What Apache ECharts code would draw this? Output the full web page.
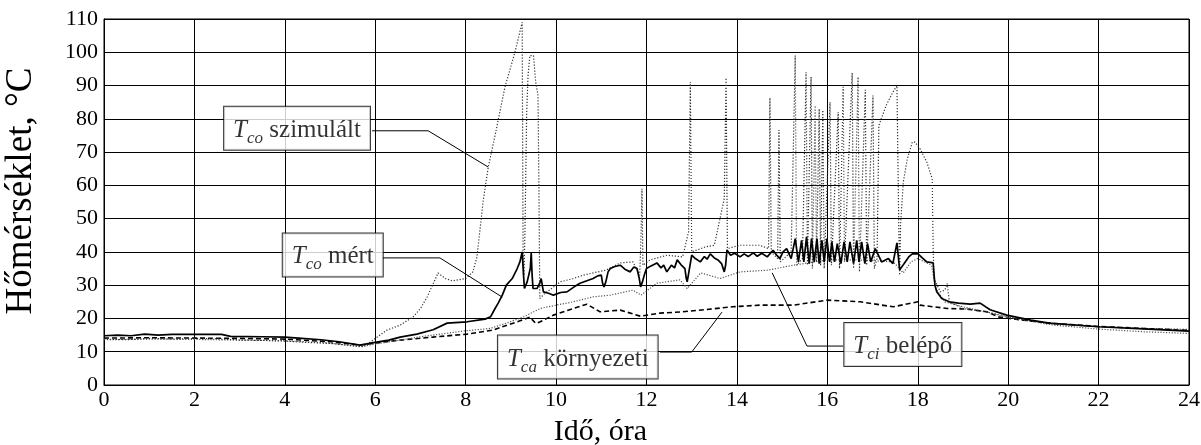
<!DOCTYPE html>
<html>
<head>
<meta charset="utf-8">
<script src="https://cdn.jsdelivr.net/npm/echarts@6/dist/echarts.min.js"></script>
<style>html,body{margin:0;padding:0;background:#fff}#c{width:1201px;height:445px}</style>
</head>
<body>
<div id="c"></div>
<script>
// ---- data: [hour, °C] ----
var tcoMeasured = [[0,14.8],[0.3,15],[0.6,14.8],[0.9,15.3],[1.2,15],[1.5,15.2],[2.0,15.2],[2.6,15.2],[2.8,14.6],[3.5,14.5],[4.0,14.4],[4.3,14.1],[4.8,13.6],[5.2,13],[5.66,12],[6.0,12.8],[6.3,13.5],[6.55,14.4],[6.92,15.3],[7.28,16.6],[7.59,18.6],[8.03,19],[8.43,19.8],[8.55,20.5],[8.65,23],[8.72,24.6],[8.81,27],[8.9,30],[9.03,32],[9.14,35],[9.2,37],[9.25,40],[9.28,33],[9.3,29],[9.36,31],[9.43,35],[9.45,39.7],[9.47,33],[9.49,29],[9.58,29],[9.65,31],[9.67,32],[9.72,28],[9.85,27.5],[9.94,27],[10.1,27.8],[10.24,28],[10.4,29.5],[10.53,30.6],[10.65,31.2],[10.82,32],[10.92,32.8],[11.0,33],[11.03,30.5],[11.06,29.5],[11.1,31],[11.15,34],[11.2,35],[11.3,35.6],[11.42,36],[11.52,34.8],[11.64,34],[11.72,35.5],[11.79,35],[11.84,32],[11.87,29.5],[11.91,31],[11.95,33],[12.0,35],[12.1,35.8],[12.23,36.7],[12.32,35.2],[12.38,36],[12.45,34],[12.55,36],[12.62,35.2],[12.68,37.6],[12.76,36.2],[12.85,35],[12.88,32],[12.9,31],[12.95,35],[13.0,39],[13.08,38],[13.19,37],[13.28,38.6],[13.34,37.8],[13.41,39.4],[13.5,38.2],[13.58,37.6],[13.66,36.5],[13.72,34],[13.75,36],[13.78,40.6],[13.86,39],[13.95,39.6],[14.07,38.5],[14.16,39.4],[14.25,38.6],[14.36,39.7],[14.45,38.7],[14.55,39.6],[14.67,38.5],[14.8,40.5],[14.88,39],[14.95,38],[15.02,40],[15.1,41],[15.2,38],[15.29,44],[15.36,37],[15.43,43.5],[15.48,37],[15.54,44.5],[15.6,36.5],[15.65,44],[15.71,37],[15.77,44],[15.82,36.5],[15.88,43.5],[15.93,37],[15.99,44],[16.05,37],[16.1,43],[16.16,37],[16.22,42.5],[16.3,36.5],[16.37,43],[16.44,37],[16.5,43],[16.58,36.5],[16.65,43.5],[16.7,37],[16.76,43],[16.83,36.5],[16.89,42.5],[16.96,37],[17.06,41],[17.2,37],[17.35,38],[17.45,36.5],[17.54,42.7],[17.6,34.6],[17.7,36.5],[17.8,38.5],[17.88,39.4],[18.0,39.5],[18.1,38.2],[18.2,37],[18.34,36.7],[18.38,30],[18.42,28],[18.53,26],[18.7,25],[18.9,24.6],[19.16,24.3],[19.38,24.6],[19.6,22.6],[19.97,21],[20.5,19.5],[20.9,18.6],[22.0,17.5],[23.1,16.8],[24,16.2]];

var tcoSimulated = [[0,13.8],[0.5,13.6],[1,14],[1.5,13.8],[2,14],[2.5,13.9],[3,13.5],[3.5,13.4],[4,13.2],[4.5,12.8],[5,12.5],[5.5,11.8],[5.75,11.5],[5.95,13.5],[6.26,16.5],[6.55,18],[6.84,20.5],[7.0,23],[7.15,26.5],[7.3,31],[7.39,33.7],[7.55,32],[7.7,31.3],[8.0,32],[8.16,34],[8.25,38.5],[8.39,55.6],[8.5,65.5],[8.65,75],[8.87,89.6],[9.09,100],[9.25,109],[9.27,40],[9.29,33],[9.31,45],[9.33,64],[9.35,82],[9.38,93],[9.42,99],[9.5,99],[9.55,91],[9.6,87],[9.62,60],[9.64,26],[9.75,27.5],[9.9,29],[10.09,31],[10.38,32],[10.6,33],[10.82,33.7],[11.1,34.5],[11.42,36.7],[11.7,37],[11.85,33],[11.88,45],[11.9,59],[11.92,36],[12.08,37.6],[12.45,39],[12.8,38.5],[12.93,46],[12.97,91],[13.0,40],[13.3,41.5],[13.5,42],[13.72,56],[13.76,92.3],[13.79,41],[14.07,42],[14.5,42],[14.7,41],[14.73,86.3],[14.76,40],[14.9,38],[14.93,76.6],[14.96,37],[15.2,40],[15.29,99],[15.32,36],[15.45,38],[15.53,94],[15.56,36],[15.64,92.6],[15.67,35],[15.73,84],[15.76,37],[15.82,83],[15.85,36],[15.9,82.6],[15.93,35],[16.06,85],[16.09,36],[16.24,82],[16.27,35],[16.35,89.6],[16.38,37],[16.55,93.8],[16.58,35],[16.68,92.6],[16.71,34],[16.84,88.7],[16.87,36],[17.01,87],[17.04,35],[17.1,38],[17.14,78],[17.3,84],[17.45,88],[17.54,90],[17.58,48],[17.6,33],[17.62,48],[17.68,61],[17.77,68],[17.88,73],[17.94,73],[18.05,71],[18.2,67],[18.32,62],[18.34,41],[18.36,32],[18.5,28],[18.6,28.5],[18.65,30.5],[18.7,25],[19,23],[19.5,22],[20,20.5],[20.5,19.3],[21,18.4],[22,17.5],[23,17],[24,16.7]];

var tciInlet = [[0,13.6],[1,13.8],[2,13.7],[3,13.5],[4,13.3],[5,12.6],[5.66,11.5],[6,12.3],[7,14.5],[8,16.3],[8.54,17],[8.9,18.6],[9.27,20.4],[9.65,23],[10.0,24],[10.38,25],[10.82,26.5],[11.2,27],[11.7,28.5],[11.88,27],[12.23,30.6],[12.74,31.6],[12.9,29],[13.2,33.7],[13.63,32],[14.07,34],[14.67,34.5],[15.25,36],[16.0,37.6],[16.7,37.6],[17.46,37],[17.68,33.7],[17.85,37],[18.0,38],[18.3,36],[18.4,29],[18.6,25],[19,23.5],[19.5,22],[20,20.3],[21,18],[22,16.8],[23,16],[24,15.5]];

var tcaAmbient = [[0,14.1],[1,14.2],[2,14.1],[3,14],[4,13.8],[5,13],[5.66,12],[6,12.6],[6.55,13.5],[7.28,14.4],[8.03,15.3],[8.6,16.5],[9.14,19],[9.42,20.4],[9.55,18.5],[9.65,19],[9.94,21],[10.38,23],[10.68,24.3],[10.97,22],[11.42,22.5],[11.86,20.7],[12.3,21.6],[12.8,22],[13.4,22.8],[13.9,23.5],[14.5,24],[15.25,24],[16,25.5],[16.73,25],[17.46,23.5],[18,25],[18.05,24],[18.65,23],[19.1,22.8],[19.53,22],[19.8,20.4],[20.33,19.5],[21,18.5],[22,17.6],[23,17],[24,16.4]];

// ---- annotations ----
var labelMain = ['T', 'T', 'T', 'T'];
var labelSub = ['co', 'co', 'ca', 'ci'];
var labelRest = ['szimulált', 'mért', 'környezeti', 'belépő'];
var labelAt = [[4.27, 77.2], [5.06, 39.1], [10.48, 8.4], [17.67, 12.2]];
var leaders = [
  [[5.93, 76.4], [7.17, 76.4], [8.5, 65.5]],
  [[6.17, 38.2], [7.43, 38.2], [8.81, 26.4]],
  [[12.3, 9.9], [13.0, 9.9], [13.67, 21.9]],
  [[16.35, 11.7], [15.55, 11.7], [14.78, 33.7]]
];
var xTicks = {min: 0, max: 24, step: 2};
var yTicks = {min: 0, max: 110, step: 10};

var FF = 'Liberation Serif';
var chart = echarts.init(document.getElementById('c'));

var series = [
  {name: 'Tca', type: 'line', data: tcaAmbient, symbol: 'none', z: 3,
   lineStyle: {color: '#000', width: 1.6, type: [5, 3]}},
  {name: 'Tci', type: 'line', data: tciInlet, symbol: 'none', z: 3,
   lineStyle: {color: '#555', width: 1.2, type: [1.2, 1.6]}},
  {name: 'TcoSim', type: 'line', data: tcoSimulated, symbol: 'none', z: 4,
   lineStyle: {color: '#333', width: 1.2, type: [1.2, 1.8]}},
  {name: 'TcoMeas', type: 'line', data: tcoMeasured, symbol: 'none', z: 5,
   lineStyle: {color: '#000', width: 1.7}}
];
leaders.forEach(function (l) {
  series.push({type: 'line', data: l, symbol: 'none', silent: true, z: 6,
    lineStyle: {color: '#000', width: 1}});
});
series.push({
  type: 'scatter', symbolSize: 0, z: 10, silent: true,
  data: labelAt.map(function (p, i) { return {value: p, idx: i}; }),
  label: {
    show: true, position: 'inside',
    backgroundColor: '#fff', borderColor: '#000', borderWidth: 1,
    padding: [8, 9, 7, 9],
    fontFamily: FF,
    formatter: function (p) {
      var i = p.dataIndex;
      return '{m|' + labelMain[i] + '}{s|' + labelSub[i] + '}{r| ' + labelRest[i] + '}';
    },
    rich: {
      m: {fontFamily: FF, fontSize: 25, fontStyle: 'italic', color: '#000', lineHeight: 28, verticalAlign: 'bottom'},
      s: {fontFamily: FF, fontSize: 17, fontStyle: 'italic', color: '#000', lineHeight: 17, verticalAlign: 'bottom', padding: [0, 0, -4, 0]},
      r: {fontFamily: FF, fontSize: 25, color: '#000', lineHeight: 28, verticalAlign: 'bottom'}
    }
  }
});

chart.setOption({
  animation: false,
  backgroundColor: '#fff',
  textStyle: {fontFamily: FF},
  grid: {left: 104, top: 19, right: 12, bottom: 60, show: true, borderColor: '#000', borderWidth: 1,
         containLabel: false, outerBoundsMode: 'none'},
  xAxis: {
    type: 'value', min: xTicks.min, max: xTicks.max, interval: xTicks.step,
    name: 'Idő, óra', nameLocation: 'middle', nameGap: 32,
    nameTextStyle: {fontFamily: FF, fontSize: 30, color: '#000', padding: [0, 92, 0, 0]},
    axisLine: {lineStyle: {color: '#000', width: 1}},
    axisTick: {show: true, inside: true, length: 5, lineStyle: {color: '#000'}},
    axisLabel: {fontFamily: FF, fontSize: 22, color: '#000', margin: 4},
    splitLine: {show: true, lineStyle: {color: '#000', width: 1}}
  },
  yAxis: {
    type: 'value', min: yTicks.min, max: yTicks.max, interval: yTicks.step,
    name: 'Hőmérséklet, °C', nameLocation: 'middle', nameGap: 64,
    nameTextStyle: {fontFamily: FF, fontSize: 37, color: '#000', padding: [0, 0, 0, 22]},
    axisLine: {lineStyle: {color: '#000', width: 1}},
    axisTick: {show: true, inside: true, length: 5, lineStyle: {color: '#000'}},
    axisLabel: {fontFamily: FF, fontSize: 22, color: '#000', margin: 6},
    splitLine: {show: true, lineStyle: {color: '#000', width: 1}}
  },
  series: series
});
</script>
</body>
</html>
